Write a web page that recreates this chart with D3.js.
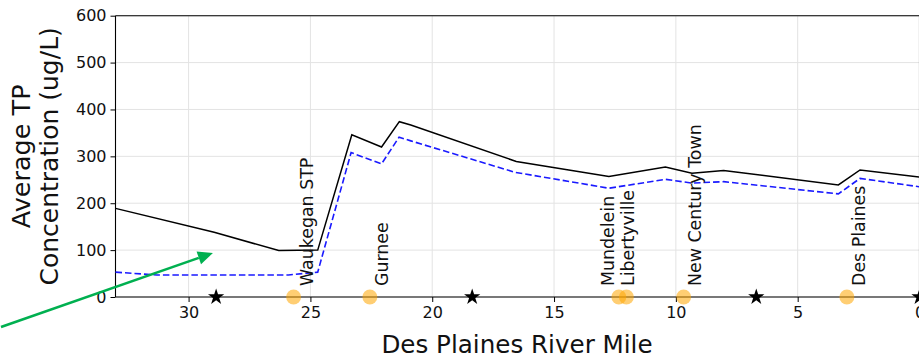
<!DOCTYPE html>
<html>
<head>
<meta charset="utf-8">
<script src="https://cdn.jsdelivr.net/npm/d3@7"></script>
<style>
  html, body { margin: 0; padding: 0; background: #fff; overflow: hidden; }
  svg { display: block; font-family: "DejaVu Sans", sans-serif; }
</style>
</head>
<body>
<svg id="chart" width="919" height="358"></svg>
<script>
// Average total phosphorus along the Des Plaines River (river mile, ug/L)
const totalMiles = [33, 28.95, 26.3, 24.7, 23.3, 22.08, 21.35, 20.88, 16.55, 12.75, 10.43, 9.34, 8.04, 3.33, 2.44, 0];
const totalTP    = [189, 138, 99, 100, 346, 320, 374, 367, 289, 257, 277, 264, 270, 239, 271, 256];

const dashedMiles = [33, 31.3, 25.9, 24.7, 23.33, 22.08, 21.36, 20.88, 16.6, 12.75, 10.43, 9.34, 8.04, 3.33, 2.44, 0];
const dashedTP    = [53, 47, 47, 53, 308, 284, 341, 333, 266, 232, 251, 243, 246, 220, 253, 235];

// Monitoring stations (stars) and treatment plants (circles)
const stationMiles = [28.87, 18.36, 6.7, 0];
const plantNames = ["Waukegan STP", "Gurnee", "Mundelein", "Libertyville", "New Century Town", "Des Plaines"];
const plantMiles = [25.69, 22.56, 12.34, 12.03, 9.68, 2.98];
const plantLabelMiles = [24.91, 21.81, 12.55, 11.73, 8.97, 2.23];

// Axis ticks
const xTicks = [30, 25, 20, 15, 10, 5, 0];
const yTicks = [0, 100, 200, 300, 400, 500, 600];

// Annotation arrow (data coordinates: mile, ug/L)
const arrowFrom = [37.7, -64];
const arrowTo = [29.0, 94];

const svg = d3.select("#chart");
const margin = { left: 115.5, top: 15.7, right: 919.5, bottom: 297 };

const x = d3.scaleLinear().domain([33, 0]).range([margin.left, margin.right]);
const y = d3.scaleLinear().domain([0, 600]).range([margin.bottom, margin.top]);

// Grid
const grid = svg.append("g");
grid.selectAll("line.gx").data(xTicks).join("line")
  .attr("x1", d => x(d)).attr("x2", d => x(d))
  .attr("y1", margin.top).attr("y2", margin.bottom)
  .attr("stroke", "#e3e3e3").attr("stroke-width", 1);
grid.selectAll("line.gy").data(yTicks).join("line")
  .attr("x1", margin.left).attr("x2", margin.right)
  .attr("y1", d => y(d)).attr("y2", d => y(d))
  .attr("stroke", "#e3e3e3").attr("stroke-width", 1);

// Axes
const xAxis = d3.axisBottom(x).tickValues(xTicks).tickFormat(d3.format("d")).tickSizeOuter(0).tickSize(5).tickPadding(5);
const yAxis = d3.axisLeft(y).tickValues(yTicks).tickFormat(d3.format("d")).tickSizeOuter(0).tickSize(5).tickPadding(4);

const gx = svg.append("g").attr("transform", `translate(0,${margin.bottom})`).call(xAxis);
const gy = svg.append("g").attr("transform", `translate(${margin.left},0)`).call(yAxis);
[gx, gy].forEach(g => {
  g.select(".domain").remove();
  g.selectAll("text").attr("font-size", 16).attr("fill", "#111").attr("font-family", "DejaVu Sans");
  g.selectAll("line").attr("stroke", "#000").attr("stroke-width", 1);
});

// Spines
svg.append("line").attr("x1", margin.left).attr("x2", margin.left)
  .attr("y1", margin.top).attr("y2", margin.bottom).attr("stroke", "#000").attr("stroke-width", 1.1);
svg.append("line").attr("x1", margin.left).attr("x2", margin.right)
  .attr("y1", margin.top).attr("y2", margin.top).attr("stroke", "#000").attr("stroke-width", 1.1);
svg.append("line").attr("x1", margin.right).attr("x2", margin.right)
  .attr("y1", margin.top).attr("y2", margin.bottom).attr("stroke", "#000").attr("stroke-width", 1.1);

// Profiles
const line = d3.line().x(d => x(d[0])).y(d => y(d[1]));
svg.append("path")
  .attr("d", line(d3.zip(dashedMiles, dashedTP)))
  .attr("fill", "none").attr("stroke", "#1a1aff").attr("stroke-width", 1.6)
  .attr("stroke-dasharray", "6.5,3");
svg.append("path")
  .attr("d", line(d3.zip(totalMiles, totalTP)))
  .attr("fill", "none").attr("stroke", "#000").attr("stroke-width", 1.5)
  .attr("stroke-linejoin", "miter");

// Bottom spine over the profiles
svg.append("line").attr("x1", margin.left).attr("x2", margin.right)
  .attr("y1", margin.bottom).attr("y2", margin.bottom).attr("stroke", "#000").attr("stroke-width", 1.1);

// Plant markers
svg.selectAll("circle.plant").data(plantMiles).join("circle")
  .attr("cx", d => x(d)).attr("cy", y(0)).attr("r", 7.5)
  .attr("fill", "#ffa500").attr("fill-opacity", 0.55);

// Station markers
const star = d3.symbol().type(d3.symbolStar).size(82);
svg.selectAll("path.station").data(stationMiles).join("path")
  .attr("transform", d => `translate(${x(d)},${y(0)})`)
  .attr("d", star()).attr("fill", "#000");

// Plant labels
svg.selectAll("text.plant").data(plantNames).join("text")
  .attr("transform", (d, i) => `translate(${x(plantLabelMiles[i])},${y(0) - 11}) rotate(-90)`)
  .attr("font-size", 17.4).attr("fill", "#111")
  .text(d => d);

// Axis titles
svg.append("text")
  .attr("x", (x(33) + x(0)) / 2 - 0.5).attr("y", 353)
  .attr("text-anchor", "middle").attr("font-size", 24.6).attr("fill", "#111")
  .text("Des Plaines River Mile");

const yMid = (margin.top + margin.bottom) / 2;
svg.append("text")
  .attr("transform", `translate(30,${yMid}) rotate(-90)`)
  .attr("text-anchor", "middle").attr("font-size", 25.5).attr("fill", "#111")
  .text("Average TP");
svg.append("text")
  .attr("transform", `translate(57.5,${yMid}) rotate(-90)`)
  .attr("text-anchor", "middle").attr("font-size", 25).attr("fill", "#111")
  .text("Concentration (ug/L)");

// Annotation arrow
const ax0 = x(arrowFrom[0]), ay0 = y(arrowFrom[1]);
const ax1 = x(arrowTo[0]), ay1 = y(arrowTo[1]);
const ang = Math.atan2(ay1 - ay0, ax1 - ax0);
const headLen = 15, headHalf = 6.8;
const bx = ax1 - headLen * Math.cos(ang), by = ay1 - headLen * Math.sin(ang);
svg.append("line")
  .attr("x1", ax0).attr("y1", ay0).attr("x2", bx).attr("y2", by)
  .attr("stroke", "#00b050").attr("stroke-width", 2.6);
svg.append("path")
  .attr("d", d3.line()([
    [ax1, ay1],
    [bx + headHalf * Math.sin(ang), by - headHalf * Math.cos(ang)],
    [bx - headHalf * Math.sin(ang), by + headHalf * Math.cos(ang)]
  ]) + "Z")
  .attr("fill", "#00b050");
</script>
</body>
</html>
